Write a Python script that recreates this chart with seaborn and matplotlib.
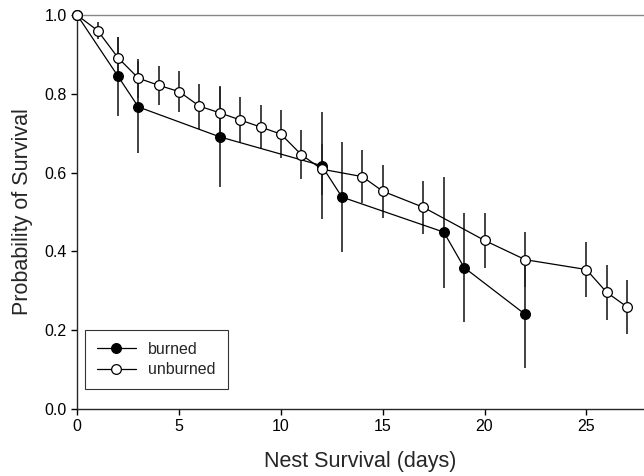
import matplotlib
matplotlib.use("Agg")
import numpy as np
import pandas as pd
import matplotlib.pyplot as plt
import seaborn as sns

# values
burned_days = [0, 2, 3, 7, 12, 13, 18, 19, 22]
burned_surv = [1.0, 0.845, 0.767, 0.691, 0.618, 0.538, 0.449, 0.359, 0.240]
burned_se = [0.0, 0.10, 0.118, 0.128, 0.135, 0.139, 0.141, 0.138, 0.135]

unburned_days = [0, 1, 2, 3, 4, 5, 6, 7, 8, 9, 10, 11, 12, 14, 15, 17, 20, 22, 25, 26, 27]
unburned_surv = [1.0, 0.961, 0.892, 0.840, 0.822, 0.806, 0.769, 0.752, 0.734, 0.716,
                 0.698, 0.646, 0.609, 0.590, 0.553, 0.512, 0.428, 0.379, 0.354, 0.296, 0.259]
unburned_se = [0.0, 0.022, 0.052, 0.05, 0.05, 0.052, 0.057, 0.065, 0.058, 0.057,
               0.06, 0.063, 0.065, 0.067, 0.067, 0.068, 0.069, 0.07, 0.069, 0.069, 0.069]

df = pd.concat([
    pd.DataFrame({"day": burned_days, "surv": burned_surv, "se": burned_se, "group": "burned"}),
    pd.DataFrame({"day": unburned_days, "surv": unburned_surv, "se": unburned_se, "group": "unburned"}),
])

sns.set_style("ticks")
plt.rcParams['font.family'] = ['Liberation Sans', 'DejaVu Sans']

fig = plt.figure(figsize=(6.44, 4.76), dpi=100)
ax = fig.add_axes([0.12, 0.141, 0.879, 0.827])

face = {"burned": "black", "unburned": "white"}
for g in ["burned", "unburned"]:
    d = df[df["group"] == g]
    ax.errorbar(d["day"], d["surv"], yerr=d["se"], fmt="none", ecolor="#222222",
                elinewidth=1.2, capsize=0, zorder=2)
    sns.lineplot(x="day", y="surv", data=d, ax=ax, color="black", linewidth=0.9,
                 marker="o", markersize=7, markerfacecolor=face[g],
                 markeredgecolor="black", markeredgewidth=0.9, label=g,
                 zorder=3, errorbar=None, clip_on=False)

ax.set_xlim(0, 27.8)
ax.set_ylim(0, 1.0)
ax.set_xticks([0, 5, 10, 15, 20, 25])
ax.set_yticks([0.0, 0.2, 0.4, 0.6, 0.8, 1.0])
ax.set_yticklabels(["0.0", "0.2", "0.4", "0.6", "0.8", "1.0"])
ax.tick_params(direction="out", length=4, width=1, labelsize=11.5, colors="black")
ax.spines["right"].set_visible(False)
ax.spines["top"].set_color("#888888")
ax.spines["top"].set_linewidth(1)
ax.spines["left"].set_linewidth(1)
ax.spines["bottom"].set_linewidth(1)

ax.set_xlabel("Nest Survival (days)", fontsize=15.5, labelpad=12)
ax.set_ylabel("Probability of Survival", fontsize=15.5, labelpad=8)

leg = ax.legend(loc="lower left", bbox_to_anchor=(0.0, 0.03), frameon=True,
                fancybox=False, edgecolor="black", fontsize=11.5,
                handlelength=2.4, borderpad=0.75, labelspacing=0.35)
leg.get_frame().set_linewidth(0.8)

fig.savefig("out.png", dpi=100)
